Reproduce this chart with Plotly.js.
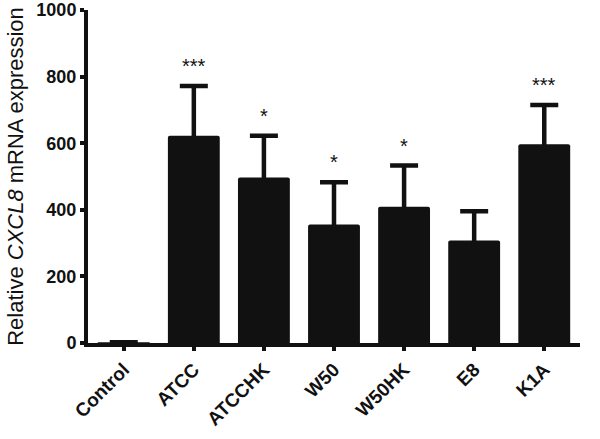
<!DOCTYPE html>
<html>
<head>
<meta charset="utf-8">
<script src="https://cdn.plot.ly/plotly-3.0.1.min.js"></script>
<style>
  html, body { margin: 0; padding: 0; background: #fff; }
  #plot { width: 600px; height: 439px; }
</style>
</head>
<body>
<div id="plot"></div>
<script>
// values
const groups = ['Control', 'ATCC', 'ATCCHK', 'W50', 'W50HK', 'E8', 'K1A'];
const means = [2, 622, 497, 356, 409, 308, 597];
const errors = [null, 150, 125, 127, 124, 88, 118];
const stars = ['', '***', '*', '*', '*', '', '***'];

const ink = '#111111';
const font = 'Liberation Sans, Arial, sans-serif';

// symmetric bars: the lower half is hidden inside the black bar
const data = [{
    type: 'bar',
    x: groups,
    y: means,
    width: 0.74,
    marker: {color: ink, line: {width: 0}, cornerradius: 2},
    error_y: {
        type: 'data',
        symmetric: true,
        array: errors,
        color: ink,
        thickness: 4.5,
        width: 14
    },
    hoverinfo: 'none'
}];

let annotations = [];
for (let i = 0; i < groups.length; i++) {
    if (stars[i]) {
        annotations.push({
            x: groups[i],
            y: means[i] + errors[i],
            text: stars[i],
            showarrow: false,
            yanchor: 'middle',
            yshift: 20,
            font: {family: font, size: 20, color: ink}
        });
    }
}

const layout = {
    width: 600,
    height: 439,
    margin: {l: 88, r: 20, t: 10, b: 96},
    paper_bgcolor: '#fff',
    plot_bgcolor: '#fff',
    showlegend: false,
    xaxis: {
        range: [-0.51, 6.51],
        showline: true,
        linecolor: ink,
        linewidth: 4,
        ticks: 'outside',
        ticklen: 4,
        tickwidth: 4,
        tickcolor: ink,
        tickangle: -45,
        showgrid: false,
        zeroline: false,
        tickfont: {family: font, size: 19, weight: 'bold', color: ink}
    },
    yaxis: {
        range: [0, 1000],
        tickvals: [0, 200, 400, 600, 800, 1000],
        showline: true,
        linecolor: ink,
        linewidth: 4,
        ticks: 'outside',
        ticklen: 4,
        tickwidth: 4,
        tickcolor: ink,
        showgrid: false,
        zeroline: false,
        tickfont: {family: font, size: 18, weight: 'bold', color: ink},
        title: {
            text: 'Relative <i>CXCL8</i> mRNA expression',
            standoff: 8,
            font: {family: font, size: 22, color: ink}
        }
    },
    annotations: annotations
};

Plotly.newPlot('plot', data, layout, {displayModeBar: false, staticPlot: true});
</script>
</body>
</html>
